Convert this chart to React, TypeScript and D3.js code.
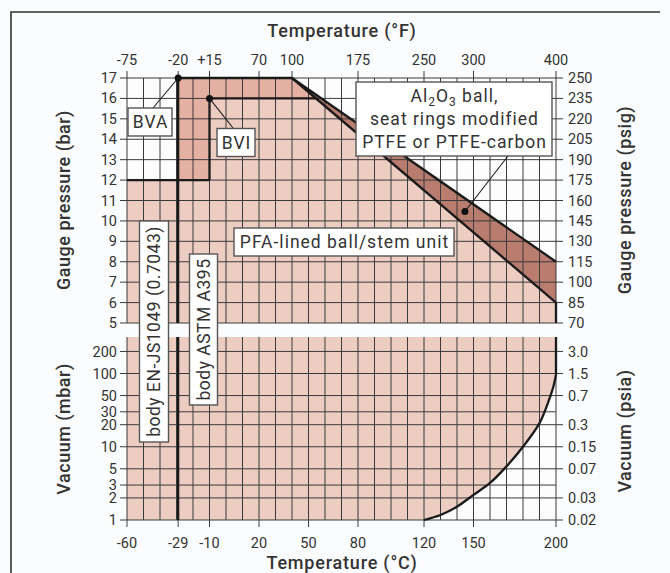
import React from "react";
import * as d3 from "d3";

// ---- data ----
const tempCTicks = [-60, -29, -10, 20, 50, 80, 120, 150, 200];
const tempFLabels = ["-75", "-20", "+15", "70", "100", "175", "250", "300", "400"];
const tempFAtC = [-60, -29, -10, 20, 40, 80, 120, 150, 200];
const gridC = d3.range(-60, 201, 10);
const barTicks = [5, 6, 7, 8, 9, 10, 11, 12, 13, 14, 15, 16, 17];
const psigLabels = ["70", "85", "100", "115", "130", "145", "160", "175", "190", "205", "220", "235", "250"];
const mbarTicks = [1, 2, 3, 5, 10, 20, 30, 50, 100, 200];
const psiaAtMbar = [200, 100, 50, 20, 10, 5, 2, 1];
const psiaLabels = ["3.0", "1.5", "0.7", "0.3", "0.15", "0.07", "0.03", "0.02"];

// limit lines [°C, bar]
const lineBVA12: [number, number][] = [[-60, 12], [-10, 12]];
const lineBVI: [number, number][] = [[-10, 12], [-10, 16], [54.5, 16]];
const lineTop: [number, number][] = [[-29, 17], [40, 17]];
const alUpper: [number, number][] = [[40, 17], [200, 8]];
const alLower: [number, number][] = [[40, 17], [200, 6]];
const bodyLineC = -29;
// vacuum limit [°C, mbar]
const vacuumCurve: [number, number][] = [
  [120, 1], [130, 1.17], [140, 1.52], [150, 2.2], [160, 3.2], [170, 5.4],
  [180, 10], [190, 21], [195, 39], [198.4, 66], [200, 96],
];
const mbarTop = 315;

const W = 670, H = 573;
const x = d3.scaleLinear().domain([-60, 200]).range([127, 556]);
const yb = d3.scaleLinear().domain([5, 17]).range([323, 78]);
const ym = d3.scaleLog().domain([1, mbarTop]).range([520, 337]);

const LIGHT = "#edcdc2";
const DARK = "#e4b0a1";
const BROWN = "#b97d6f";
const TXT = "#333";
const FONT = "Roboto, 'DejaVu Sans', sans-serif";

const lb = d3.line<[number, number]>().x(d => x(d[0])).y(d => yb(d[1]));
const lv = d3.line<[number, number]>().x(d => x(d[0])).y(d => ym(d[1])).curve(d3.curveCatmullRom);

export default function App() {
  const lightPoly: [number, number][] = [[-60, 5], [-60, 12], [-10, 12], [-10, 16], [54.5, 16], alLower[1], [200, 5]];
  const darkPoly: [number, number][] = [[-29, 12], [-29, 17], [40, 17], [54.5, 16], [-10, 16], [-10, 12]];
  const brownPoly: [number, number][] = [alUpper[0], alUpper[1], alLower[1]];
  const whiteVac = (lv(vacuumCurve) || "") + `L${x(200)},${ym(1)}Z`;
  const thick = { stroke: "#1a1a1a", strokeWidth: 2.3, fill: "none" } as const;

  return (
    <svg width={W} height={H} style={{ position: "absolute", left: 0, top: 0 }} fontFamily={FONT}>
      <rect x={0} y={0} width={W} height={H} fill="#fbfcfe" />
      <path d={`M11,${H} V12 H660`} stroke="#333" strokeWidth={1.6} fill="none" />

      {/* upper panel fills */}
      <rect x={x(-60)} y={yb(17)} width={x(200) - x(-60)} height={yb(5) - yb(17)} fill="#fdfdfe" />
      <path d={(lb(lightPoly) || "") + "Z"} fill={LIGHT} />
      <path d={(lb(darkPoly) || "") + "Z"} fill={DARK} />
      <path d={(lb(brownPoly) || "") + "Z"} fill={BROWN} />

      {/* lower panel fills */}
      <rect x={x(-60)} y={ym(mbarTop)} width={x(200) - x(-60)} height={ym(1) - ym(mbarTop)} fill={LIGHT} />
      <path d={whiteVac} fill="#fdfdfe" />

      {/* grid */}
      <g stroke="#3a3a3a" strokeWidth={1}>
        {gridC.map(c => (
          <g key={c}>
            <line x1={x(c)} x2={x(c)} y1={yb(17)} y2={yb(5)} />
            <line x1={x(c)} x2={x(c)} y1={ym(mbarTop)} y2={ym(1)} />
          </g>
        ))}
        {barTicks.map(b => (
          <line key={b} x1={x(-60) - 7} x2={x(200) + 7} y1={yb(b)} y2={yb(b)} />
        ))}
        {mbarTicks.map(m => (
          <line key={m} x1={x(-60) - 7} x2={x(200)} y1={ym(m)} y2={ym(m)} />
        ))}
        {psiaAtMbar.map(m => (
          <line key={"r" + m} x1={x(200)} x2={x(200) + 7} y1={ym(m)} y2={ym(m)} />
        ))}
        {tempFAtC.map(c => (
          <line key={"t" + c} x1={x(c)} x2={x(c)} y1={yb(17) - 7} y2={yb(17)} />
        ))}
        {tempCTicks.map(c => (
          <line key={"b" + c} x1={x(c)} x2={x(c)} y1={ym(1)} y2={ym(1) + 7} />
        ))}
      </g>

      {/* limit lines */}
      <path d={lb(lineBVA12) || ""} {...thick} />
      <path d={lb(lineBVI) || ""} {...thick} />
      <path d={lb(lineTop) || ""} {...thick} />
      <path d={lb(alUpper) || ""} {...thick} />
      <path d={lb(alLower) || ""} {...thick} />
      <line x1={x(200)} x2={x(200)} y1={yb(6)} y2={yb(5)} {...thick} />
      <line x1={x(bodyLineC)} x2={x(bodyLineC)} y1={yb(17)} y2={yb(5)} {...thick} />
      <line x1={x(bodyLineC)} x2={x(bodyLineC)} y1={ym(mbarTop)} y2={ym(1)} {...thick} />
      <path d={lv(vacuumCurve) || ""} {...thick} />
      <line x1={x(200)} x2={x(200)} y1={ym(96)} y2={ym(mbarTop)} {...thick} />

      {/* gap band */}
      <rect x={x(-60) - 1} y={yb(5) + 1} width={x(200) - x(-60) + 2} height={ym(mbarTop) - yb(5) - 1} fill="#fbfcfe" />

      {/* tick labels */}
      <g fill={TXT} fontSize={14.5}>
        {barTicks.map(b => (
          <text key={b} x={117} y={yb(b)} dy="0.35em" textAnchor="end">{b}</text>
        ))}
        {mbarTicks.map(m => (
          <text key={m} x={117} y={ym(m)} dy="0.35em" textAnchor="end">{m}</text>
        ))}
        {barTicks.map((b, i) => (
          <text key={"p" + b} x={568} y={yb(b)} dy="0.35em">{psigLabels[i]}</text>
        ))}
        {psiaAtMbar.map((m, i) => (
          <text key={"a" + m} x={568} y={ym(m)} dy="0.35em">{psiaLabels[i]}</text>
        ))}
        {tempFAtC.map((c, i) => (
          <text key={"f" + c} x={x(c)} y={65} textAnchor="middle">{tempFLabels[i]}</text>
        ))}
        {tempCTicks.map(c => (
          <text key={"c" + c} x={x(c)} y={548} textAnchor="middle">{c}</text>
        ))}
      </g>

      {/* axis titles */}
      <g fill={TXT} fontSize={18} fontWeight={500} textAnchor="middle" letterSpacing={0.8}>
        <text x={342} y={37}>Temperature (°F)</text>
        <text x={342} y={569}>Temperature (°C)</text>
      </g>
      <g fill={TXT} fontSize={18} fontWeight={500} textAnchor="middle" letterSpacing={0.5}>
        <text transform="translate(70,200) rotate(-90)">Gauge pressure (bar)</text>
        <text transform="translate(70,429) rotate(-90)">Vacuum (mbar)</text>
        <text transform="translate(631,200) rotate(-90)">Gauge pressure (psig)</text>
        <text transform="translate(631,431) rotate(-90)">Vacuum (psia)</text>
      </g>

      {/* leaders and dots */}
      <g stroke="#1a1a1a" strokeWidth={1.1}>
        <line x1={x(-29)} y1={yb(17)} x2={153} y2={108} />
        <line x1={x(-10)} y1={yb(16)} x2={233} y2={128} />
        <line x1={x(144.8)} y1={yb(10.46)} x2={508} y2={156} />
      </g>
      <g fill="#111">
        <circle cx={x(-29)} cy={yb(17)} r={3.5} />
        <circle cx={x(-10)} cy={yb(16)} r={3.5} />
        <circle cx={x(144.8)} cy={yb(10.46)} r={3.5} />
      </g>

      {/* label boxes */}
      <g fill="#ffffff" stroke="#555" strokeWidth={1.4}>
        <rect x={128} y={108} width={44} height={28} />
        <rect x={217} y={128.5} width={38} height={28} />
        <rect x={356} y={82} width={196} height={74} />
        <rect x={234} y={228} width={220} height={28} />
        <rect x={139.5} y={221} width={29} height={221} />
        <rect x={189.5} y={254} width={28} height={151} />
      </g>
      <g fill={TXT} fontSize={17.5} textAnchor="middle" letterSpacing={1}>
        <text x={150.5} y={122} dy="0.36em">BVA</text>
        <text x={236.5} y={142.5} dy="0.36em">BVI</text>
        <text x={454.5} y={96} dy="0.36em">Al<tspan fontSize={12} dy="4">2</tspan><tspan dy="-4">O</tspan><tspan fontSize={12} dy="4">3</tspan><tspan dy="-4"> ball,</tspan></text>
        <text x={454.5} y={119} dy="0.36em">seat rings modified</text>
        <text x={454.5} y={142} dy="0.36em">PTFE or PTFE-carbon</text>
        <text x={344.5} y={242} dy="0.36em">PFA-lined ball/stem unit</text>
      </g>
      <g fill={TXT} fontSize={17.5} textAnchor="middle" letterSpacing={0.5}>
        <text transform="translate(154,331.5) rotate(-90)" dy="0.36em">body EN-JS1049 (0.7043)</text>
        <text transform="translate(203.5,329.5) rotate(-90)" dy="0.36em">body ASTM A395</text>
      </g>
    </svg>
  );
}
